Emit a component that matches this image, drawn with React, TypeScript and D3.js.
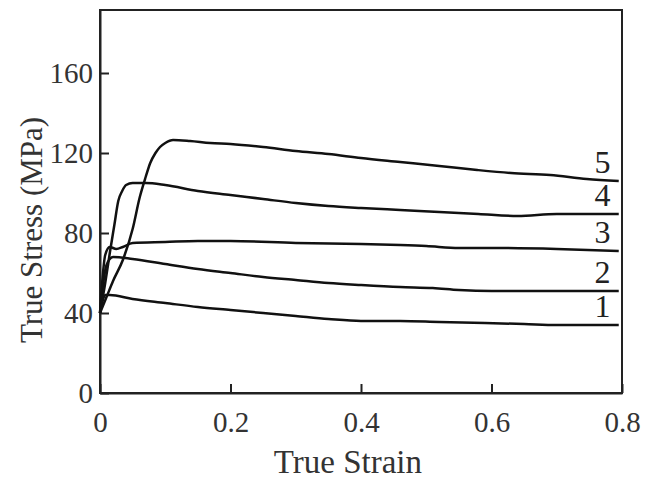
import { useEffect, useRef } from 'react'
import * as d3 from 'd3'

const strain1 = [0, 0.004, 0.008, 0.015, 0.05, 0.1, 0.15, 0.2, 0.25, 0.3, 0.35, 0.4, 0.46, 0.52, 0.59, 0.65, 0.7, 0.75, 0.795]
const stress1 = [40, 46, 49, 49, 47, 45, 43, 41.5, 40, 38.5, 37, 36, 36, 35.5, 35, 34.5, 34, 34, 34]

const strain2 = [0, 0.005, 0.01, 0.02, 0.05, 0.1, 0.15, 0.2, 0.25, 0.3, 0.35, 0.4, 0.46, 0.51, 0.55, 0.6, 0.7, 0.795]
const stress2 = [40, 55, 64, 68, 67, 64.5, 62, 60, 58, 56.5, 55, 54, 53, 52.5, 51.5, 51, 51, 51]

const strain3 = [0, 0.004, 0.008, 0.015, 0.025, 0.035, 0.05, 0.1, 0.15, 0.2, 0.3, 0.4, 0.46, 0.5, 0.55, 0.6, 0.7, 0.795]
const stress3 = [40, 58, 69, 73, 72, 73, 75, 75.5, 76, 76, 75, 74.5, 74, 73.5, 72.5, 72.5, 72, 71]

const strain4 = [0, 0.008, 0.015, 0.022, 0.028, 0.034, 0.04, 0.05, 0.07, 0.1, 0.15, 0.2, 0.25, 0.3, 0.35, 0.4, 0.46, 0.52, 0.58, 0.64, 0.7, 0.75, 0.795]
const stress4 = [40, 55, 70, 84, 96, 101, 104, 105, 105, 104, 101, 99, 97, 95, 93.5, 92.5, 91.5, 90.5, 89.5, 88.5, 89.5, 89.5, 89.5]

const strain5 = [0, 0.01, 0.02, 0.035, 0.05, 0.061, 0.07, 0.077, 0.085, 0.092, 0.1, 0.112, 0.138, 0.169, 0.2, 0.25, 0.3, 0.35, 0.4, 0.46, 0.52, 0.578, 0.63, 0.69, 0.746, 0.795]
const stress5 = [40, 48, 56, 66.5, 82, 98, 108, 115, 120, 123, 125, 126.5, 126, 125, 124.5, 123, 121, 119.5, 117.5, 115.5, 113.5, 111.5, 110, 109, 107, 106]

const curveLabels = ['1', '2', '3', '4', '5']
const xTicks = [0, 0.2, 0.4, 0.6, 0.8]
const yTicks = [0, 40, 80, 120, 160]

const font = '"Liberation Serif", "Times New Roman", serif'

export default function App() {
  const svgRef = useRef<SVGSVGElement>(null)

  useEffect(() => {
    if (!svgRef.current) return
    const svg = d3.select(svgRef.current)
    svg.selectAll('*').remove()

    const width = 653
    const height = 480
    const margin = { top: 10, right: 31, bottom: 87, left: 100 }
    const innerWidth = width - margin.left - margin.right
    const innerHeight = height - margin.top - margin.bottom

    const xScale = d3.scaleLinear().domain([0, 0.8]).range([0, innerWidth])
    const yScale = d3.scaleLinear().domain([0, 191.5]).range([innerHeight, 0])

    const g = svg.append('g')
      .attr('transform', `translate(${margin.left},${margin.top})`)

    // frame
    g.append('rect')
      .attr('width', innerWidth)
      .attr('height', innerHeight)
      .attr('fill', 'none')
      .attr('stroke', '#222')
      .attr('stroke-width', 2)

    const xAxis = g.append('g')
      .attr('transform', `translate(0,${innerHeight})`)
      .call(d3.axisBottom(xScale).tickValues(xTicks).tickSizeInner(-9).tickSizeOuter(0).tickPadding(18)
        .tickFormat(d => d === 0 ? '0' : String(d)))
    xAxis.select('.domain').attr('stroke', '#222').attr('stroke-width', 2)
    xAxis.selectAll('line').attr('stroke', '#222').attr('stroke-width', 2)
    xAxis.selectAll('text').attr('font-family', font).attr('font-size', 29).attr('fill', '#333')

    const yAxis = g.append('g')
      .call(d3.axisLeft(yScale).tickValues(yTicks).tickSizeInner(-9).tickSizeOuter(0).tickPadding(7))
    yAxis.select('.domain').attr('stroke', '#222').attr('stroke-width', 2)
    yAxis.selectAll('line').attr('stroke', '#222').attr('stroke-width', 2)
    yAxis.selectAll('text').attr('font-family', font).attr('font-size', 29).attr('fill', '#333')

    const series = [
      { x: strain1, y: stress1 },
      { x: strain2, y: stress2 },
      { x: strain3, y: stress3 },
      { x: strain4, y: stress4 },
      { x: strain5, y: stress5 },
    ]

    const line = d3.line<[number, number]>()
      .x(d => xScale(d[0]))
      .y(d => yScale(d[1]))
      .curve(d3.curveMonotoneX)

    series.forEach((s, i) => {
      const pts = s.x.map((v, j) => [v, s.y[j]] as [number, number])
      g.append('path')
        .datum(pts)
        .attr('fill', 'none')
        .attr('stroke', '#111')
        .attr('stroke-width', 2.5)
        .attr('stroke-linejoin', 'round')
        .attr('d', line)

      g.append('text')
        .attr('x', xScale(0.77))
        .attr('y', yScale(s.y[s.y.length - 1]) - 8)
        .attr('text-anchor', 'middle')
        .attr('font-family', font)
        .attr('font-size', 32)
        .attr('fill', '#222')
        .text(curveLabels[i])
    })

    svg.append('text')
      .attr('x', margin.left + xScale(0.38))
      .attr('y', 473)
      .attr('text-anchor', 'middle')
      .attr('font-family', font)
      .attr('font-size', 33)
      .attr('fill', '#333')
      .text('True Strain')

    svg.append('text')
      .attr('transform', 'translate(42,230) rotate(-90)')
      .attr('text-anchor', 'middle')
      .attr('font-family', font)
      .attr('font-size', 31)
      .attr('fill', '#333')
      .text('True Stress (MPa)')
  }, [])

  return (
    <svg
      ref={svgRef}
      width={653}
      height={480}
      style={{ position: 'absolute', left: 0, top: 0, background: '#fff' }}
    />
  )
}
